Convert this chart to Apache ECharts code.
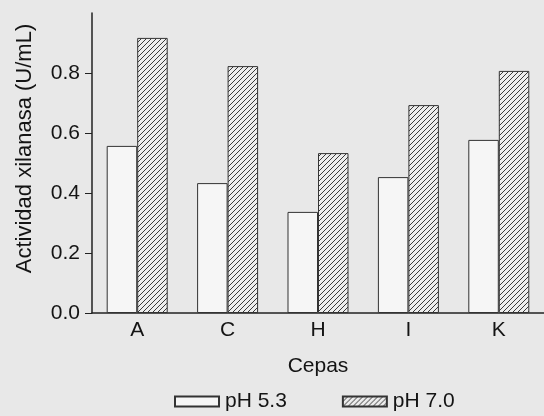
<!DOCTYPE html>
<html>
<head>
<meta charset="utf-8">
<script src="https://cdn.jsdelivr.net/npm/echarts@6/dist/echarts.min.js"></script>
<style>html,body{margin:0;padding:0;background:#e8e8e8;}#c{width:544px;height:416px;}</style>
</head>
<body>
<div id="c"></div>
<script>
const categories = ['A', 'C', 'H', 'I', 'K'];
const ph53 = [0.557, 0.433, 0.337, 0.453, 0.577];
const ph70 = [0.917, 0.823, 0.533, 0.693, 0.807];
const yTicks = [0, 0.2, 0.4, 0.6, 0.8];
const seriesNames = ['pH 5.3', 'pH 7.0'];

function hatch() {
  const s = 5;
  const cv = document.createElement('canvas');
  cv.width = s; cv.height = s;
  const ctx = cv.getContext('2d');
  ctx.fillStyle = '#ededed';
  ctx.fillRect(0, 0, s, s);
  ctx.strokeStyle = '#3a3a3a';
  ctx.lineWidth = 1;
  ctx.beginPath();
  ctx.moveTo(0, s); ctx.lineTo(s, 0);
  ctx.moveTo(-1, 1); ctx.lineTo(1, -1);
  ctx.moveTo(s - 1, s + 1); ctx.lineTo(s + 1, s - 1);
  ctx.stroke();
  return cv;
}

const font = 'Liberation Sans, Arial, sans-serif';
const ink = '#141414';
const chart = echarts.init(document.getElementById('c'));
chart.setOption({
  backgroundColor: '#e8e8e8',
  animation: false,
  textStyle: { fontFamily: font, color: ink },
  grid: { left: 92, top: 13, width: 457.5, bottom: 103 },
  legend: {
    left: 174, top: 391, padding: 0,
    itemWidth: 44, itemHeight: 10, itemGap: 55,
    icon: 'rect',
    textStyle: { fontSize: 21, color: ink, fontFamily: font, padding: [7, 0, 0, 1] },
    data: seriesNames
  },
  graphic: [{
    type: 'text',
    x: 25, y: 148.5,
    rotation: Math.PI / 2,
    style: {
      text: 'Actividad xilanasa (U/mL)',
      font: '22px ' + font,
      fill: ink,
      align: 'center',
      verticalAlign: 'middle'
    }
  }],
  xAxis: {
    type: 'category',
    data: categories,
    name: 'Cepas',
    nameLocation: 'middle',
    nameGap: 43,
    nameTextStyle: { fontSize: 21, color: ink },
    axisLine: { lineStyle: { color: '#222', width: 1.5 } },
    axisTick: { show: false },
    axisLabel: { fontSize: 21, color: ink, margin: 7 }
  },
  yAxis: {
    type: 'value',
    min: 0, max: 1.0, interval: 0.2,
    splitLine: { show: false },
    axisLine: { show: true, lineStyle: { color: '#222', width: 1.5 } },
    axisTick: { show: true, length: 7, lineStyle: { color: '#222' }, customValues: yTicks },
    axisLabel: { fontSize: 21, color: ink, margin: 12, customValues: yTicks, formatter: v => v.toFixed(1) }
  },
  series: [
    {
      name: seriesNames[0], type: 'bar', data: ph53,
      barWidth: 30.5, barGap: '0%',
      itemStyle: { color: '#f6f6f6', borderColor: '#333', borderWidth: 1 }
    },
    {
      name: seriesNames[1], type: 'bar', data: ph70,
      barWidth: 30.5, barGap: '0%',
      itemStyle: { color: { image: hatch(), repeat: 'repeat' }, borderColor: '#333', borderWidth: 1 }
    }
  ]
});
</script>
</body>
</html>
